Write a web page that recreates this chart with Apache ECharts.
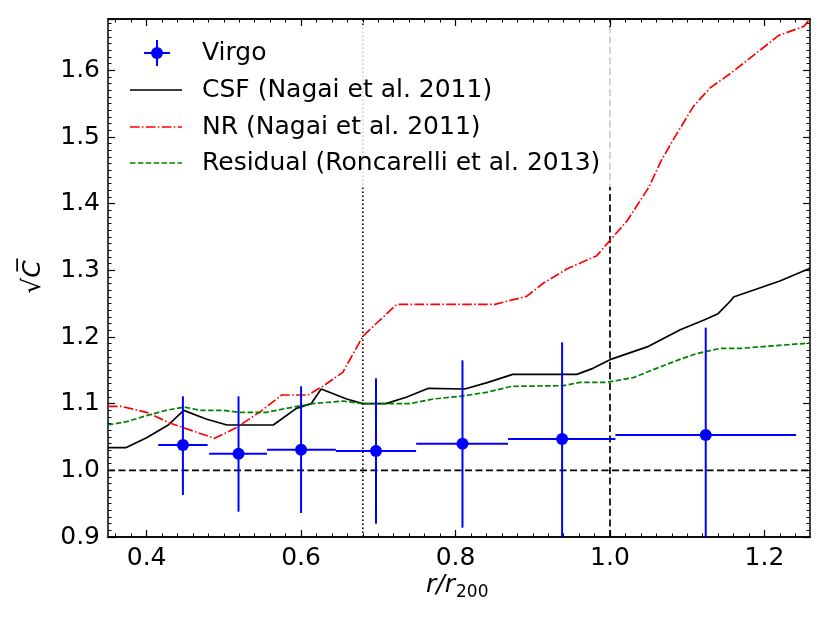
<!DOCTYPE html>
<html>
<head>
<meta charset="utf-8">
<title>sqrt(C) profile</title>
<script src="https://cdn.jsdelivr.net/npm/echarts@6.0.0/dist/echarts.min.js"></script>
<style>
    html, body { margin: 0; padding: 0; background: #fff; }
    #main { width: 830px; height: 623px; }
</style>
</head>
<body>
<div id="main"></div>
<script>
    // axis ranges
    var xMin = 0.35, xMax = 1.259;
    var yMin = 0.9, yMax = 1.677;

    // x tick labels (major) and minor tick step
    var xTicks = [0.4, 0.6, 0.8, 1.0, 1.2];
    var xMinorStep = 0.02;

    // CSF (Nagai et al. 2011)
    var csfX = [0.350, 0.373, 0.400, 0.428, 0.448, 0.477, 0.504, 0.564, 0.594, 0.613, 0.626, 0.659, 0.680, 0.710, 0.737,
                0.765, 0.812, 0.842, 0.874, 0.957, 0.978, 1.000, 1.050, 1.091, 1.121, 1.140, 1.156, 1.160, 1.220, 1.259];
    var csfY = [1.034, 1.034, 1.049, 1.068, 1.090, 1.077, 1.068, 1.068, 1.093, 1.100, 1.122, 1.107, 1.100, 1.100, 1.110,
                1.123, 1.122, 1.132, 1.144, 1.144, 1.153, 1.166, 1.186, 1.211, 1.225, 1.235, 1.254, 1.260, 1.284, 1.303];

    // NR (Nagai et al. 2011)
    var nrX = [0.350, 0.367, 0.400, 0.430, 0.460, 0.488, 0.516, 0.546, 0.575, 0.609, 0.628, 0.654, 0.680, 0.698, 0.724,
               0.851, 0.892, 0.914, 0.944, 0.983, 1.000, 1.022, 1.050, 1.067, 1.082, 1.108, 1.130, 1.158, 1.218, 1.251, 1.259];
    var nrY = [1.096, 1.096, 1.087, 1.071, 1.059, 1.048, 1.064, 1.087, 1.113, 1.113, 1.126, 1.147, 1.201, 1.221, 1.249,
               1.249, 1.261, 1.281, 1.302, 1.322, 1.345, 1.374, 1.424, 1.466, 1.496, 1.546, 1.574, 1.597, 1.652, 1.666, 1.677];

    // Residual (Roncarelli et al. 2013)
    var resX = [0.350, 0.374, 0.400, 0.425, 0.449, 0.469, 0.499, 0.520, 0.555, 0.581, 0.615, 0.654, 0.680, 0.741,
                0.771, 0.806, 0.840, 0.873, 0.940, 0.961, 0.996, 1.030, 1.056, 1.087, 1.112, 1.143, 1.169, 1.259];
    var resY = [1.068, 1.073, 1.082, 1.090, 1.095, 1.090, 1.090, 1.087, 1.087, 1.093, 1.100, 1.104, 1.100, 1.100,
                1.107, 1.111, 1.117, 1.126, 1.127, 1.132, 1.132, 1.139, 1.151, 1.165, 1.175, 1.183, 1.183, 1.191];

    // Virgo points with error bars
    var virgoX   = [0.447, 0.519, 0.600, 0.697, 0.809, 0.938, 1.124];
    var virgoY   = [1.038, 1.025, 1.031, 1.029, 1.040, 1.047, 1.053];
    var virgoXLo = [0.415, 0.481, 0.556, 0.645, 0.749, 0.868, 1.007];
    var virgoXHi = [0.479, 0.556, 0.645, 0.749, 0.868, 1.007, 1.241];
    var virgoYLo = [0.963, 0.938, 0.936, 0.920, 0.914, 0.900, 0.892];
    var virgoYHi = [1.111, 1.111, 1.126, 1.138, 1.165, 1.192, 1.214];

    // reference lines
    var refY = 1.0;
    var rDotted = 0.68;
    var rDashed = 1.0;

    var font = '"DejaVu Sans", "Liberation Sans", sans-serif';
    var fs = 25;

    function pairs(xs, ys) {
        var out = [];
        for (var i = 0; i < xs.length; i++) out.push([xs[i], ys[i]]);
        return out;
    }

    function minorTicks() {
        var out = [];
        var n = Math.round((xMax - xMin) / xMinorStep) + 2;
        for (var i = 0; i < n; i++) {
            var v = Math.round((0.36 + i * xMinorStep) * 1000) / 1000;
            if (v > xMin && v < xMax && xTicks.indexOf(v) < 0) out.push(v);
        }
        return out;
    }

    function virgoData() {
        var out = [];
        for (var i = 0; i < virgoX.length; i++) {
            out.push([virgoX[i], virgoY[i], virgoXLo[i], virgoXHi[i], virgoYLo[i], virgoYHi[i]]);
        }
        return out;
    }

    function renderVirgo(params, api) {
        var c = api.coord([api.value(0), api.value(1)]);
        var l = api.coord([api.value(2), api.value(1)]);
        var r = api.coord([api.value(3), api.value(1)]);
        var b = api.coord([api.value(0), api.value(4)]);
        var t = api.coord([api.value(0), api.value(5)]);
        var st = {stroke: '#0000ff', lineWidth: 2};
        return {
            type: 'group',
            children: [
                {type: 'line', shape: {x1: l[0], y1: l[1], x2: r[0], y2: r[1]}, style: st},
                {type: 'line', shape: {x1: t[0], y1: t[1], x2: b[0], y2: b[1]}, style: st},
                {type: 'circle', shape: {cx: c[0], cy: c[1], r: 6}, style: {fill: '#0000ff'}}
            ]
        };
    }

    // x axes: ticks given as custom values so that min 0.35 is not a tick
    function xAxisOf(pos, values, len, labels) {
        return {
            type: 'value', position: pos, min: xMin, max: xMax,
            axisLine: {show: true, onZero: false, lineStyle: {color: '#000', width: 1.5}},
            axisTick: {show: true, inside: true, length: len, customValues: values,
                       lineStyle: {color: '#000', width: len > 5 ? 1.2 : 1}},
            splitLine: {show: false},
            axisLabel: {
                show: labels, customValues: values, margin: 9,
                color: '#000', fontSize: fs, fontFamily: font,
                formatter: function (v) { return Number(v).toFixed(1); }
            }
        };
    }

    function yAxisOf(pos, labels) {
        return {
            type: 'value', position: pos, min: yMin, max: yMax, interval: 0.1,
            axisLine: {show: true, onZero: false, lineStyle: {color: '#000', width: 1.5}},
            axisTick: {show: true, inside: true, length: 7, lineStyle: {color: '#000', width: 1.2}},
            minorTick: {show: true, splitNumber: 10, length: 3.5, lineStyle: {color: '#000', width: 1}},
            splitLine: {show: false},
            axisLabel: {
                show: labels, showMinLabel: true, showMaxLabel: false, margin: 8,
                color: '#000', fontSize: fs, fontFamily: font,
                formatter: function (v) { return v.toFixed(1); }
            }
        };
    }

    function plainLine(data, color, dash, width, z) {
        return {
            type: 'line', data: data, xAxisIndex: 0, yAxisIndex: 0,
            symbol: 'none', showSymbol: false, silent: true, z: z || 2,
            lineStyle: {color: color, width: width || 1.5, type: dash || 'solid'}
        };
    }

    // legend drawn by hand, as in matplotlib
    function legendGraphic() {
        var rows = [53, 90, 127, 163];
        var tx = 202;
        var items = [
            {type: 'rect', z: 100, shape: {x: 117, y: 27, width: 502, height: 160},
             style: {fill: 'rgba(255,255,255,0.8)'}},
            {type: 'line', z: 101, shape: {x1: 144, y1: rows[0], x2: 170, y2: rows[0]}, style: {stroke: '#0000ff', lineWidth: 2}},
            {type: 'line', z: 101, shape: {x1: 157, y1: rows[0] - 13, x2: 157, y2: rows[0] + 13}, style: {stroke: '#0000ff', lineWidth: 2}},
            {type: 'circle', z: 101, shape: {cx: 157, cy: rows[0], r: 6}, style: {fill: '#0000ff'}},
            {type: 'line', z: 101, shape: {x1: 130, y1: rows[1], x2: 182, y2: rows[1]}, style: {stroke: '#000', lineWidth: 1.7}},
            {type: 'line', z: 101, shape: {x1: 130, y1: rows[2], x2: 182, y2: rows[2]},
             style: {stroke: '#ff0000', lineWidth: 1.7, lineDash: [9.6, 2.4, 1.5, 2.4]}},
            {type: 'line', z: 101, shape: {x1: 130, y1: rows[3], x2: 182, y2: rows[3]},
             style: {stroke: '#008000', lineWidth: 1.7, lineDash: [5.5, 2.4]}}
        ];
        var names = ['Virgo', 'CSF (Nagai et al. 2011)', 'NR (Nagai et al. 2011)', 'Residual (Roncarelli et al. 2013)'];
        for (var i = 0; i < names.length; i++) {
            items.push({
                type: 'text', z: 101,
                style: {text: names[i], x: tx, y: rows[i], fill: '#000', font: fs + 'px ' + font,
                        align: 'left', verticalAlign: 'middle'}
            });
        }
        // axis titles
        items.push({
            type: 'text', z: 101, x: 33, y: 277, rotation: Math.PI / 2,
            style: {text: '\u221A' + 'C\u0305', x: 0, y: 0, fill: '#000', font: 'italic 25px ' + font,
                    align: 'center', verticalAlign: 'middle'}
        });
        items.push({
            type: 'text', z: 101,
            style: {text: 'r/r', x: 426, y: 585, fill: '#000', font: 'italic 25px ' + font,
                    align: 'left', verticalAlign: 'middle'}
        });
        items.push({
            type: 'text', z: 101,
            style: {text: '200', x: 456, y: 593, fill: '#000', font: '17px ' + font,
                    align: 'left', verticalAlign: 'middle'}
        });
        return items;
    }

    var chartDom = document.getElementById('main');
    var myChart = echarts.init(chartDom, null, {renderer: 'canvas'});
    var option;
    var minors = minorTicks();
    option = {
        backgroundColor: '#fff',
        animation: false,
        grid: {left: 108, right: 20, top: 19, bottom: 86, containLabel: false, outerBoundsMode: 'none'},
        xAxis: [
            xAxisOf('bottom', xTicks, 7, true),
            xAxisOf('bottom', minors, 3.5, false),
            xAxisOf('top', xTicks, 7, false),
            xAxisOf('top', minors, 3.5, false)
        ],
        yAxis: [yAxisOf('left', true), yAxisOf('right', false)],
        graphic: legendGraphic(),
        series: [
            plainLine([[xMin, refY], [xMax, refY]], '#000', [7, 3.5], 1.7, 1),
            plainLine([[rDotted, yMin], [rDotted, yMax]], '#000', [1.5, 2.5], 1.6, 1),
            plainLine([[rDashed, yMin], [rDashed, yMax]], '#000', [7, 3.5], 1.7, 1),
            plainLine(pairs(csfX, csfY), '#000', 'solid', 1.7, 2),
            plainLine(pairs(nrX, nrY), '#ff0000', [9.6, 2.4, 1.5, 2.4], 1.7, 2),
            plainLine(pairs(resX, resY), '#008000', [5.5, 2.4], 1.7, 2),
            {
                type: 'custom', name: 'Virgo', silent: true, clip: true, z: 3,
                renderItem: renderVirgo,
                encode: {x: [0, 2, 3], y: [1, 4, 5]},
                data: virgoData()
            }
        ]
    };
    option && myChart.setOption(option);
</script>
</body>
</html>
